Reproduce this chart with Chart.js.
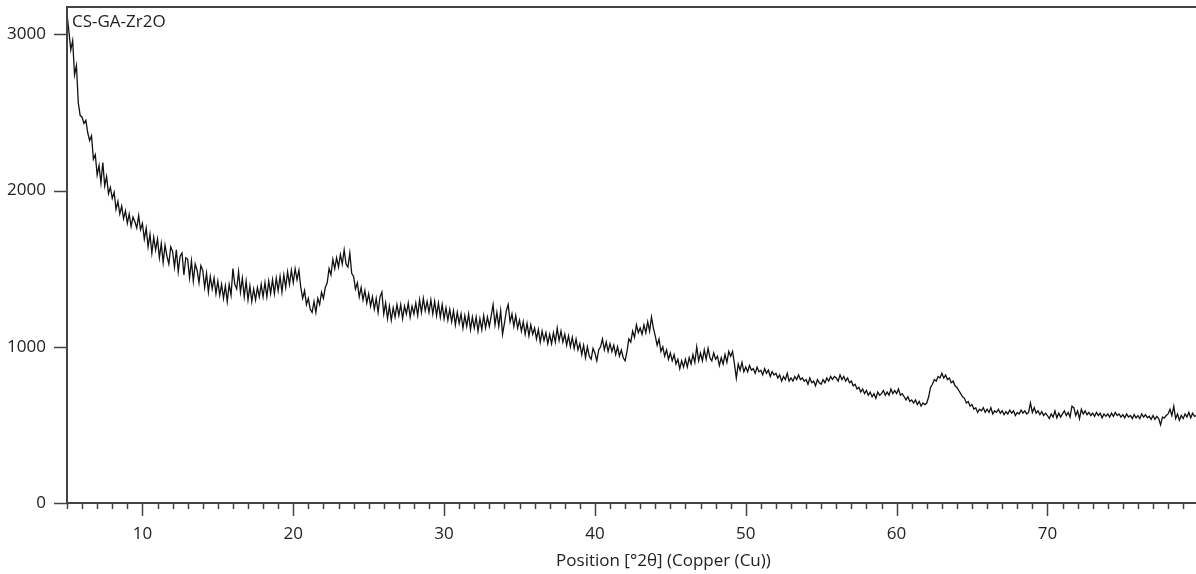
<!DOCTYPE html>
<html>
<head>
<meta charset="utf-8">
<script src="https://cdn.jsdelivr.net/npm/chart.js@4.4.1/dist/chart.umd.min.js"></script>
<style>
  html, body { margin: 0; padding: 0; background: #fff; }
  #xrdChart { display: block; }
</style>
</head>
<body>
<canvas id="xrdChart" width="1196" height="574"></canvas>
<script>
const sampleName = 'CS-GA-Zr2O';
const xAxisTitle = 'Position [°2θ] (Copper (Cu))';
const xTickLabels = [10, 20, 30, 40, 50, 60, 70];
const yTickLabels = [0, 1000, 2000, 3000];

// scan starts at 5 °2θ, one reading every 0.125 °
const scanStart = 5;
const scanStep = 0.125;

// counts, one row per degree (5 .. 79)
const counts = [
  3130, 3020, 2900, 2960, 2740, 2800, 2560, 2480,
  2470, 2430, 2450, 2370, 2320, 2350, 2200, 2230,
  2100, 2160, 2050, 2180, 2030, 2090, 1980, 2020,
  1950, 1990, 1880, 1930, 1850, 1900, 1820, 1870,
  1790, 1850, 1770, 1830, 1800, 1760, 1840, 1750,
  1790, 1690, 1760, 1640, 1720, 1600, 1700, 1620,
  1690, 1570, 1660, 1540, 1650, 1580, 1530, 1640,
  1610, 1510, 1620, 1480, 1580, 1600, 1460, 1570,
  1560, 1440, 1550, 1420, 1530, 1490, 1410, 1520,
  1490, 1380, 1470, 1350, 1450, 1370, 1440, 1340,
  1420, 1330, 1400, 1310, 1390, 1290, 1400, 1330,
  1500, 1400, 1370, 1480, 1350, 1440, 1320, 1420,
  1300, 1390, 1290, 1370, 1300, 1380, 1320, 1400,
  1320, 1410, 1320, 1420, 1340, 1430, 1340, 1440,
  1360, 1450, 1350, 1460, 1380, 1480, 1400, 1490,
  1410, 1500, 1430, 1490, 1380, 1310, 1360, 1270,
  1310, 1240, 1220, 1290, 1220, 1310, 1270, 1350,
  1310, 1380, 1410, 1500, 1460, 1560, 1500, 1570,
  1510, 1590, 1530, 1620, 1530, 1510, 1600, 1470,
  1450, 1370, 1410, 1320, 1380, 1300, 1360, 1280,
  1340, 1260, 1320, 1240, 1310, 1220, 1320, 1350,
  1210, 1280, 1180, 1260, 1170, 1250, 1190, 1270,
  1200, 1270, 1180, 1260, 1210, 1280, 1190, 1260,
  1210, 1280, 1200, 1300, 1220, 1310, 1230, 1290,
  1220, 1300, 1210, 1290, 1200, 1280, 1190, 1270,
  1180, 1250, 1170, 1240, 1160, 1230, 1140, 1220,
  1150, 1210, 1120, 1200, 1130, 1210, 1110, 1190,
  1120, 1190, 1100, 1180, 1110, 1200, 1120, 1190,
  1130, 1200, 1270, 1140, 1220, 1130, 1230, 1080,
  1150, 1230, 1270, 1160, 1210, 1130, 1200, 1120,
  1170, 1100, 1160, 1080, 1150, 1070, 1140, 1080,
  1120, 1050, 1110, 1030, 1100, 1040, 1090, 1020,
  1080, 1020, 1090, 1030, 1120, 1040, 1100, 1030,
  1080, 1010, 1070, 1000, 1060, 990, 1050, 980,
  1020, 950, 1010, 930, 1000, 940, 920, 990,
  960, 910, 980, 1000, 1050, 980, 1030, 970,
  1020, 970, 1010, 950, 1000, 940, 980, 930,
  910, 970, 1050, 1030, 1100, 1060, 1140, 1090,
  1120, 1080, 1140, 1090, 1160, 1100, 1190, 1120,
  1070, 1010, 1050, 970, 1000, 940, 980, 920,
  960, 910, 950, 890, 920, 860, 910, 870,
  920, 870, 930, 890, 950, 900, 1000, 910,
  960, 910, 980, 920, 990, 930, 910, 960,
  920, 940, 880, 930, 890, 950, 900, 970,
  940, 970, 890, 800, 890, 850, 900, 840,
  870, 840, 880, 850, 860, 830, 870, 840,
  850, 820, 860, 830, 850, 810, 840, 820,
  830, 800, 820, 780, 810, 790, 830, 780,
  800, 780, 810, 790, 820, 790, 800, 780,
  790, 760, 800, 770, 780, 750, 790, 770,
  760, 790, 770, 800, 780, 810, 790, 810,
  800, 780, 820, 790, 810, 780, 800, 770,
  780, 750, 760, 730, 740, 710, 730, 700,
  720, 690, 710, 680, 700, 670, 710, 690,
  700, 720, 690, 710, 690, 730, 700, 720,
  700, 730, 690, 700, 680, 660, 680, 650,
  660, 640, 660, 630, 650, 620, 640, 630,
  640, 680, 740, 760, 790, 780, 810, 800,
  830, 800, 820, 790, 800, 770, 780, 750,
  740, 720, 700, 680, 670, 640, 650, 620,
  630, 600, 610, 580, 600, 590, 610, 580,
  600, 580, 610, 570, 590, 580, 600, 575,
  590, 565, 585, 570, 595, 575, 590, 560,
  580, 570, 595, 575, 590, 570, 580, 640,
  580, 610, 575, 590, 565, 585, 560, 575,
  560, 540, 570, 550, 590, 545, 575, 550,
  570, 590, 560, 580, 550, 620, 610, 560,
  590, 540, 600, 570, 590, 565, 580, 560,
  575, 555, 580, 560, 575, 545, 570, 555,
  570, 550, 575, 555, 580, 560, 570, 550,
  565, 545, 570, 550, 560, 540, 565, 545,
  560, 540, 570, 550, 565, 545, 555, 535,
  560, 535, 555, 540, 500, 550, 545, 560,
  570, 600, 560, 620, 540, 570, 530, 560,
  540, 570, 550, 580, 545, 575, 555, 560
];

const xMin = 5, xMax = 79.85;
const yMin = 0, yMax = 3175;

const textColor = '#222';
const axisColor = '#444';
const fontFamily = '"Open Sans", "Noto Sans", sans-serif';
const fontSize = 17;

const positions = [];
for (let i = 0; i < counts.length; i++) positions.push(scanStart + i * scanStep);
const points = counts.map((c, i) => ({ x: positions[i], y: c }));

// axis frame, tick marks, sample name and x title
const xrdFrame = {
    id: 'xrdFrame',
    afterDraw(chart) {
        const { ctx, chartArea: a, scales: { x, y } } = chart;
        ctx.save();
        ctx.strokeStyle = axisColor;
        ctx.lineWidth = 2;
        ctx.beginPath();
        ctx.moveTo(a.right, a.top); ctx.lineTo(a.left, a.top);
        ctx.lineTo(a.left, a.bottom); ctx.lineTo(a.right, a.bottom);
        ctx.stroke();

        ctx.lineWidth = 1.5;
        ctx.beginPath();
        for (let v = Math.ceil(xMin); v <= xMax; v++) {
            const px = Math.round(x.getPixelForValue(v)) + 0.5;
            const len = v % 10 === 0 ? 13 : 6;
            ctx.moveTo(px, a.bottom);
            ctx.lineTo(px, a.bottom + len);
        }
        yTickLabels.forEach(v => {
            const py = Math.round(y.getPixelForValue(v)) + 0.5;
            ctx.moveTo(a.left - 13, py);
            ctx.lineTo(a.left, py);
        });
        ctx.stroke();

        ctx.fillStyle = textColor;
        ctx.font = fontSize + 'px ' + fontFamily;
        ctx.textAlign = 'left';
        ctx.textBaseline = 'middle';
        ctx.fillText(sampleName, a.left + 5, a.top + 15);

        ctx.textAlign = 'center';
        ctx.fillText(xAxisTitle, a.left + a.width * 0.5283, 561);
        ctx.restore();
    }
};

const canvas = document.getElementById('xrdChart');
window.xrdChart = new Chart(canvas, {
    type: 'line',
    data: {
        datasets: [{
            label: sampleName,
            data: points,
            borderColor: '#111',
            borderWidth: 1.3,
            pointRadius: 0,
            tension: 0,
            fill: false
        }]
    },
    options: {
        responsive: false,
        animation: false,
        devicePixelRatio: 1,
        layout: { padding: { top: 7, right: 0, left: 0, bottom: 0 } },
        plugins: { legend: { display: false }, tooltip: { enabled: false } },
        scales: {
            x: {
                type: 'linear',
                min: xMin,
                max: xMax,
                grid: { display: false, drawTicks: false },
                border: { display: false },
                afterBuildTicks: s => { s.ticks = xTickLabels.map(v => ({ value: v })); },
                afterFit: s => { s.height = 71; s.paddingLeft = 0; s.paddingRight = 0; },
                ticks: {
                    color: textColor,
                    font: { family: fontFamily, size: fontSize },
                    padding: 21,
                    maxRotation: 0,
                    autoSkip: false,
                    callback: v => String(v)
                }
            },
            y: {
                min: yMin,
                max: yMax,
                grid: { display: false, drawTicks: false },
                border: { display: false },
                afterBuildTicks: s => { s.ticks = yTickLabels.map(v => ({ value: v })); },
                afterFit: s => { s.width = 67; s.paddingTop = 0; s.paddingBottom = 0; },
                ticks: {
                    color: textColor,
                    font: { family: fontFamily, size: fontSize },
                    padding: 21,
                    callback: v => String(v)
                }
            }
        }
    },
    plugins: [xrdFrame]
});
</script>
</body>
</html>
